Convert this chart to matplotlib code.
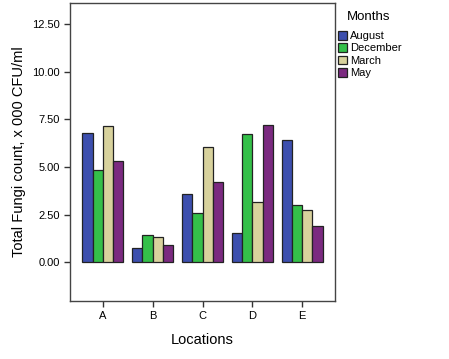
import matplotlib.pyplot as plt
import numpy as np

plt.rcParams["font.family"] = ["Liberation Sans", "DejaVu Sans"]

locations = ["A", "B", "C", "D", "E"]
months = ["August", "December", "March", "May"]
august = [6.77, 0.73, 3.58, 1.52, 6.40]
december = [4.83, 1.43, 2.60, 6.73, 3.02]
march = [7.13, 1.35, 6.05, 3.15, 2.76]
may = [5.33, 0.89, 4.20, 7.20, 1.90]
colors = ["#3d4fae", "#34c049", "#d8d29d", "#7b2a80"]

fig = plt.figure(figsize=(4.49, 3.59), dpi=100)
ax = fig.add_axes([70 / 449, 58 / 359, 265 / 449, 298 / 359])

x = np.arange(len(locations))
width = 0.207
series = [august, december, march, may]
for i, (vals, name, c) in enumerate(zip(series, months, colors)):
    ax.bar(x + (i - 1.5) * width, vals, width, color=c, edgecolor="#222222",
           linewidth=0.9, label=name)

ax.set_xlim(-0.66, 4.66)
ax.set_ylim(-2.03, 13.6)
ticks = [0, 2.5, 5, 7.5, 10, 12.5]
ax.set_yticks(ticks)
ax.set_yticklabels([f"{v:.2f}" for v in ticks])
ax.set_xticks(x)
ax.set_xticklabels(locations)
ax.tick_params(axis="both", labelsize=8, length=4, width=1, color="#333333")
for s in ax.spines.values():
    s.set_color("#444444")
    s.set_linewidth(1)

ax.set_ylabel("Total Fungi count, x 000 CFU/ml", fontsize=10.5)
ax.set_xlabel("Locations", fontsize=10.5, labelpad=8)

# legend title sits indented, as in the original
fig.text(347 / 449, 1 - 17 / 359, "Months", fontsize=9.5, va="center")
fig.legend(loc="upper left", bbox_to_anchor=(338 / 449, 1 - 31 / 359),
           frameon=False, fontsize=8, handlelength=0.85, handleheight=0.8,
           handletextpad=0.2, labelspacing=0.2, borderpad=0,
           borderaxespad=0)

fig.savefig("out.png", dpi=100)
